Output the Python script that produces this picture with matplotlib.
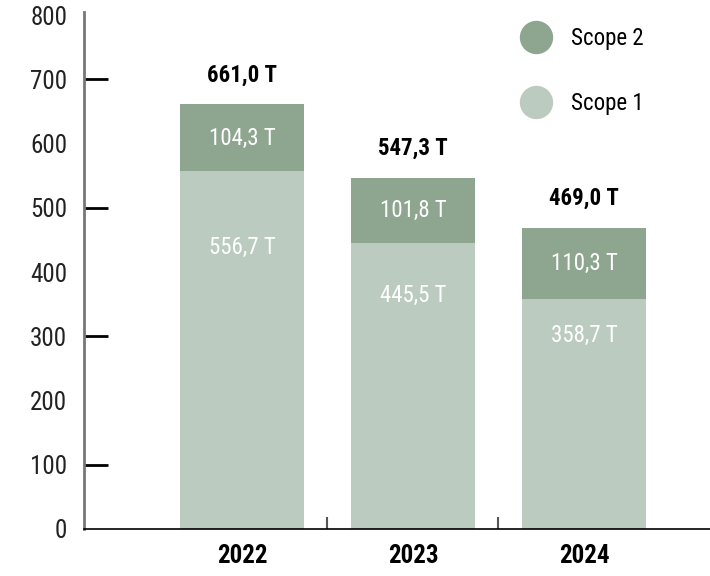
import matplotlib
matplotlib.use('Agg')
import matplotlib.pyplot as plt
from matplotlib import font_manager
from matplotlib.lines import Line2D
import numpy as np

years = ['2022', '2023', '2024']
scope1 = [556.7, 445.5, 358.7]
scope2 = [104.3, 101.8, 110.3]
totals = [661.0, 547.3, 469.0]
scope1_label_y = [438, 363, 302]

c_scope1 = '#bccbbf'
c_scope2 = '#8ea58f'

names = {f.name for f in font_manager.fontManager.ttflist}
fam = [n for n in ['Roboto Condensed', 'Liberation Sans Narrow', 'DejaVu Sans Condensed'] if n in names]
plt.rcParams['font.family'] = fam + ['DejaVu Sans']


def fmt(v):
    return f'{v:.1f}'.replace('.', ',') + ' T'


fig = plt.figure(figsize=(7.1, 5.76), dpi=100)
ax = fig.add_axes([0.1183, 0.0816, 0.8817, 0.892])

x = np.arange(len(years))
w = 0.725
ax.bar(x, scope1, width=w, color=c_scope1, zorder=2)
ax.bar(x, scope2, width=w, bottom=scope1, color=c_scope2, zorder=2)

for i in range(len(years)):
    ax.text(x[i], scope1[i] + scope2[i] / 2, fmt(scope2[i]), ha='center', va='center',
            color='white', fontsize=16.5)
    ax.text(x[i], scope1_label_y[i], fmt(scope1[i]), ha='center', va='center',
            color='white', fontsize=16.5)
    ax.annotate(fmt(totals[i]), (x[i], totals[i]), xytext=(0, 21), textcoords='offset points',
                ha='center', va='center', fontsize=16.5, fontweight='bold', color='black')

ax.set_xlim(-0.924, 2.737)
ax.set_ylim(0, 800)

ax.yaxis.remove_overlapping_locs = False
ax.set_yticks(np.arange(0, 801, 100))
ax.tick_params(axis='y', length=0, labelsize=18, pad=12, labelcolor='#222222')
ax.set_yticks([100, 300, 500, 700], minor=True)
ax.tick_params(axis='y', which='minor', direction='in', length=17, width=2, color='black')

ax.set_xticks(x)
ax.set_xticklabels(years, fontweight='bold', fontsize=18)
ax.tick_params(axis='x', length=0, pad=11)
ax.set_xticks([0.5, 1.5], minor=True)
ax.tick_params(axis='x', which='minor', direction='in', length=9, width=1.5, color='#555555')

for s in ['top', 'right']:
    ax.spines[s].set_visible(False)
ax.spines['left'].set_color('#777777')
ax.spines['left'].set_linewidth(2)
ax.spines['left'].set_bounds(0, 805)
ax.spines['bottom'].set_color('black')
ax.spines['bottom'].set_linewidth(1.2)

handles = [Line2D([], [], marker='o', linestyle='none', markersize=23, color=c_scope2),
           Line2D([], [], marker='o', linestyle='none', markersize=23, color=c_scope1)]
ax.legend(handles, ['Scope 2', 'Scope 1'], loc='upper left', bbox_to_anchor=(0.652, 1.018),
          frameon=False, fontsize=16.5, labelspacing=1.85, handletextpad=0.55)

fig.savefig('out.png', dpi=100)
